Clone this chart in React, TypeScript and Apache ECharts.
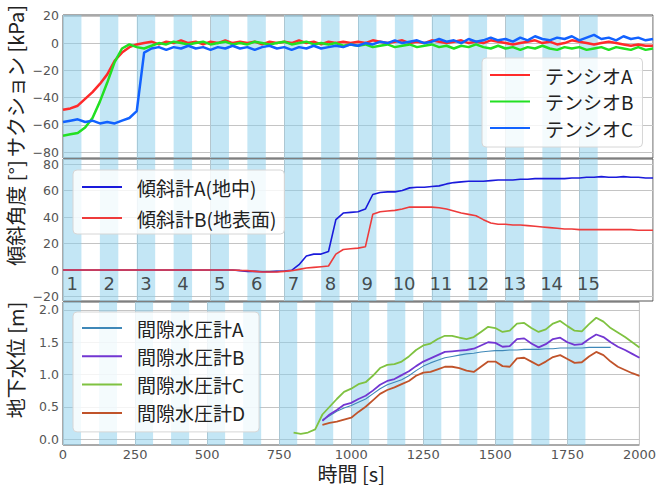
import React, { useEffect, useRef } from "react";
import * as echarts from "echarts";

// ---------- data ----------
const times = Array.from({ length: 81 }, (_, i) => i * 25); // 0..2000 s, 25 s sampling
const poreTimes = times.filter((t) => t >= 800); // 800..2000 s

const bandStarts = [0, 125, 250, 375, 500, 625, 750, 875, 1000, 1125, 1250, 1375, 1500, 1625, 1750];
const bandLength = 62.5;
const bandLabels = ["1", "2", "3", "4", "5", "6", "7", "8", "9", "10", "11", "12", "13", "14", "15"];
const bandLabelValue = -10;

const xTicks = [0, 250, 500, 750, 1000, 1250, 1500, 1750, 2000];
const suctionTicks = [-80, -60, -40, -20, 0, 20];
const tiltTicks = [-20, 0, 20, 40, 60, 80];
const waterTicks = [0, 0.5, 1.0, 1.5, 2.0];

const tensioA = [
  -49, -48, -46, -41, -36, -30, -23, -13, -7, -3,
  -1, 0, 1, -1, 1, 0, 2, 0, 1, -1,
  1, 0, 2, 0, 1, 0, 1, -1, 1, 0,
  1, 0, 2, 0, 1, -1, 1, 0, 1, 0,
  1, 0, 2, 1, 0, 1, 2, 0, 1, 0,
  2, 1, 0, 1, 2, 0, 1, 0, 2, 1,
  0, -1, 0, 1, 2, 0, 1, -1, 0, 2,
  1, 0, -1, 0, 1, 0, -1, -2, -1, -2,
  -2,
];
const tensioB = [
  -68, -67, -66, -62, -55, -43, -29, -14, -4, -1,
  -3, -4, -2, 0, -1, 1, 0, -1, 0, 1,
  -1, 0, 1, -1, 0, -1, 1, 0, -1, 0,
  1, -1, 0, 1, -1, 0, -1, 0, -2, -1,
  -2, -1, -3, -2, -1, -3, -2, -1, -3, -2,
  -1, -3, -2, -4, -2, -3, -1, -3, -4, -2,
  -4, -3, -5, -3, -4, -2, -4, -5, -3, -4,
  -3, -5, -4, -3, -5, -3, -4, -5, -3, -5,
  -4,
];
const tensioC = [
  -58, -57, -56, -58, -57, -59, -58, -59, -57, -55,
  -50, -7, -4, -3, -5, -3, -4, -2, -4, -3,
  -5, -3, -4, -2, -4, -3, -5, -3, -2, -4,
  -3, -5, -3, -4, -2, -4, -3, -2, -3, -1,
  -2, 0, -1, 1, 0, 2, 0, 1, 2, 0,
  1, 3, 1, 2, 0, 3, 1, 2, 4, 2,
  3, 1, 4, 2, 5, 3, 2, 4, 3, 5,
  2, 4, 6, 3, 4, 2, 5, 3, 4, 2,
  3,
];

const tiltA = [
  0, 0, 0, 0, 0, 0, 0, 0, 0, 0,
  0, 0, 0, 0, 0, 0, 0, 0, 0, 0,
  0, 0, 0, 0, -0.5, -1, -1, -1.3, -1.3, -1,
  -0.8, -0.2, 4, 10.5, 12, 12, 14, 38, 43, 43.5,
  44, 46, 57, 58.5, 59, 59, 60, 62, 62.5, 62.5,
  63, 63.5, 65, 66, 66.5, 67, 67, 67, 67.5, 68,
  68, 68, 68.5, 68.5, 69, 69, 69, 69, 69, 69.5,
  69.5, 70, 70, 70.5, 70, 70, 70.5, 70, 70, 69.5,
  69.5,
];
const tiltB = [
  0, 0, 0, 0, 0, 0, 0, 0, 0, 0,
  0, 0, 0, 0, 0, 0, 0, 0, 0, 0,
  0, 0, 0, 0, -0.3, -0.5, -1, -1.5, -1.5, -1.5,
  -1, -0.5, 0.5, 1.5, 2, 2.5, 3, 12, 15.5, 16,
  16.5, 17.5, 42, 44, 44.5, 45, 46, 47.5, 47.5, 47.5,
  47.5, 47, 46, 44.5, 43, 42, 41, 38, 35.5, 34.5,
  34.5, 34, 34, 33.5, 33, 32.5, 32, 31.5, 31, 31,
  30.5, 30.5, 30.5, 30.5, 30.5, 30.5, 30.5, 30.5, 30, 30,
  30,
];

const poreA = [
  null, null, null, null, 0.3, 0.36, 0.43, 0.48, 0.52, 0.57,
  0.62, 0.7, 0.78, 0.84, 0.88, 0.92, 0.98, 1.06, 1.13, 1.18,
  1.22, 1.26, 1.28, 1.3, 1.32, 1.33, 1.35, 1.36, 1.37, 1.37,
  1.38, 1.38, 1.39, 1.39, 1.39, 1.4, 1.4, 1.41, 1.41, 1.41,
  1.41, 1.42, 1.42, 1.42, 1.42, null, null, null, null,
];
const poreB = [
  null, null, null, null, 0.28, 0.38, 0.45, 0.53, 0.56, 0.62,
  0.67, 0.75, 0.84, 0.9, 0.93, 0.99, 1.05, 1.13, 1.2, 1.25,
  1.3, 1.35, 1.36, 1.37, 1.38, 1.4, 1.45, 1.5, 1.49, 1.43,
  1.44, 1.55, 1.56, 1.48, 1.42, 1.47, 1.55, 1.57, 1.5, 1.46,
  1.47, 1.55, 1.62, 1.58, 1.5, 1.43, 1.38, 1.32, 1.26,
];
const poreC = [
  0.1, 0.08, 0.1, 0.15, 0.38, 0.5, 0.62, 0.73, 0.78, 0.85,
  0.88, 0.98, 1.1, 1.15, 1.16, 1.2, 1.28, 1.38, 1.45, 1.48,
  1.55, 1.6, 1.6, 1.57, 1.55, 1.58, 1.66, 1.74, 1.72, 1.66,
  1.68, 1.79, 1.8, 1.72, 1.66, 1.7, 1.79, 1.83, 1.75, 1.68,
  1.67, 1.78, 1.88, 1.82, 1.72, 1.65, 1.58, 1.5, 1.42,
];
const poreD = [
  null, null, null, null, 0.22, 0.25, 0.27, 0.3, 0.33, 0.42,
  0.5, 0.6, 0.7, 0.76, 0.8, 0.85, 0.9, 0.98, 1.03, 1.04,
  1.08, 1.12, 1.12, 1.1, 1.06, 1.04, 1.12, 1.2, 1.2, 1.13,
  1.12, 1.25, 1.26, 1.2, 1.14, 1.2, 1.27, 1.3, 1.24, 1.18,
  1.19, 1.28, 1.35, 1.3, 1.2, 1.12, 1.07, 1.02, 0.98,
];

// ---------- helpers ----------
const JP = "'Noto Sans CJK JP', 'Noto Sans', sans-serif";
const NUM = "'DejaVu Sans', sans-serif";
const minus = (v: number) => String(v).replace("-", "\u2212");
const pair = (ts: number[], vs: (number | null)[]) => ts.map((t, i) => [t, vs[i]]);

export default function App() {
  const ref = useRef<HTMLDivElement>(null);

  useEffect(() => {
    if (!ref.current) return;
    document.body.style.margin = "0";
    const chart = echarts.init(ref.current, null, { renderer: "svg" });

    const grids = [
      { left: 63, right: 6, top: 15, height: 143 },
      { left: 63, right: 6, top: 159, height: 142 },
      { left: 63, right: 6, top: 302, height: 143 },
    ].map((g) => ({ ...g, show: true, borderColor: "#555", borderWidth: 1, backgroundColor: "transparent" }));

    const splitLine = { show: true, lineStyle: { color: "#c4c4c4", width: 1 } };

    const xAxes = [0, 1, 2].map((gi) => ({
      type: "value",
      gridIndex: gi,
      min: 0,
      max: 2000,
      interval: 250,
      axisLine: { show: false },
      axisTick: { show: false },
      splitLine,
      axisLabel: {
        show: gi === 2,
        fontSize: 13,
        lineHeight: 12,
        color: "#555",
        fontFamily: NUM,
        margin: 3,
        customValues: xTicks,
        formatter: (v: number) => String(v),
      },
      name: gi === 2 ? "時間 [s]" : "",
      nameLocation: "middle",
      nameGap: 19,
      nameTextStyle: { fontSize: 20, lineHeight: 18, color: "#222", fontFamily: JP },
    }));

    const yBase = (gi: number, min: number, max: number, ticks: number[], fmt: (v: number) => string) => ({
      type: "value",
      gridIndex: gi,
      min,
      max,
      axisLine: { show: false },
      axisTick: { show: false, customValues: ticks },
      splitLine,
      axisLabel: {
        fontSize: 12.5,
        lineHeight: 10,
        color: "#555",
        fontFamily: NUM,
        margin: 4,
        customValues: ticks,
        formatter: fmt,
      },
    });

    const yAxes = [
      yBase(0, -84.4, 20.6, suctionTicks, (v) => minus(v)),
      yBase(1, -23.4, 83.8, tiltTicks, (v) => minus(v)),
      yBase(2, -0.093, 2.124, waterTicks, (v) => Number(v).toFixed(1)),
    ];

    const bandSeries = (gi: number) => ({
      type: "line",
      name: "band" + gi,
      xAxisIndex: gi,
      yAxisIndex: gi,
      data: [],
      silent: true,
      markArea: {
        silent: true,
        itemStyle: { color: "rgba(135,206,235,0.5)" },
        data: bandStarts.map((s) => [{ xAxis: s }, { xAxis: s + bandLength }]),
      },
    });

    const line = (name: string, gi: number, ts: number[], vs: (number | null)[], color: string, width: number) => ({
      type: "line",
      name,
      xAxisIndex: gi,
      yAxisIndex: gi,
      data: pair(ts, vs),
      showSymbol: false,
      symbol: "none",
      lineStyle: { color, width },
      itemStyle: { color },
      connectNulls: false,
    });

    const legendBase = {
      orient: "vertical",
      icon: "rect",
      itemWidth: 40,
      itemHeight: 2,
      selectedMode: false,
      backgroundColor: "rgba(255,255,255,0.82)",
      borderColor: "#d6d6d6",
      borderWidth: 1,
      borderRadius: 4,
      textStyle: { fontSize: 19, lineHeight: 20, color: "#222", fontFamily: JP, padding: [0, 0, 0, 10] },
    };

    const option = {
      animation: false,
      backgroundColor: "#fff",
      grid: grids,
      xAxis: xAxes,
      yAxis: yAxes,
      legend: [
        {
          ...legendBase,
          left: 482,
          top: 58,
          itemGap: 6.5,
          padding: [7, 9, 9, 8],
          data: ["テンシオA", "テンシオB", "テンシオC"],
        },
        {
          ...legendBase,
          left: 73,
          top: 170,
          itemGap: 11,
          padding: [7, 8, 6, 9],
          data: ["傾斜計A(地中)", "傾斜計B(地表面)"],
        },
        {
          ...legendBase,
          left: 73,
          top: 312,
          itemGap: 8.3,
          padding: [6, 14, 9, 9],
          data: ["間隙水圧計A", "間隙水圧計B", "間隙水圧計C", "間隙水圧計D"],
        },
      ],
      graphic: [
        { type: "text", x: 15, y: 81, rotation: Math.PI / 2, style: { text: "サクション [kPa]", fontSize: 20, fill: "#222", fontFamily: JP, align: "center", verticalAlign: "middle" } },
        { type: "text", x: 15, y: 213, rotation: Math.PI / 2, style: { text: "傾斜角度 [°]", fontSize: 20, fill: "#222", fontFamily: JP, align: "center", verticalAlign: "middle" } },
        { type: "text", x: 15, y: 360, rotation: Math.PI / 2, style: { text: "地下水位 [m]", fontSize: 20, fill: "#222", fontFamily: JP, align: "center", verticalAlign: "middle" } },
      ],
      series: [
        bandSeries(0),
        bandSeries(1),
        bandSeries(2),
        line("テンシオA", 0, times, tensioA, "#ff2a2a", 2.5),
        line("テンシオB", 0, times, tensioB, "#22e022", 2.5),
        line("テンシオC", 0, times, tensioC, "#1262ff", 2.5),
        line("傾斜計A(地中)", 1, times, tiltA, "#1a1adb", 1.6),
        line("傾斜計B(地表面)", 1, times, tiltB, "#ee3b3b", 1.6),
        {
          type: "scatter",
          name: "bandNo",
          xAxisIndex: 1,
          yAxisIndex: 1,
          symbolSize: 0,
          silent: true,
          data: bandStarts.map((s, i) => [s + bandLength / 2, bandLabelValue, bandLabels[i]]),
          label: {
            show: true,
            position: "inside",
            formatter: (p: any) => p.value[2],
            fontSize: 18,
            color: "#222",
            fontFamily: NUM,
          },
        },
        line("間隙水圧計A", 2, poreTimes, poreA, "#3f88b8", 1.1),
        line("間隙水圧計B", 2, poreTimes, poreB, "#7236d2", 1.8),
        line("間隙水圧計C", 2, poreTimes, poreC, "#7fc241", 1.8),
        line("間隙水圧計D", 2, poreTimes, poreD, "#c0532a", 1.8),
      ],
    };

    chart.setOption(option as any);
    return () => chart.dispose();
  }, []);

  return <div ref={ref} style={{ position: "fixed", left: 0, top: 0, width: 659, height: 488 }} />;
}
